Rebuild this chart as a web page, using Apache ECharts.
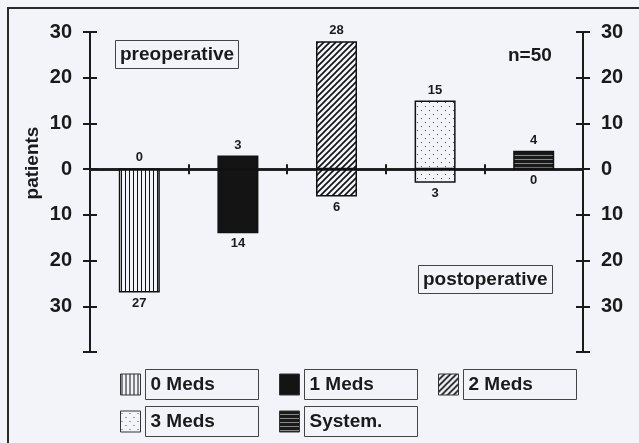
<!DOCTYPE html>
<html>
<head>
<meta charset="utf-8">
<script src="https://cdn.jsdelivr.net/npm/echarts@6/dist/echarts.min.js"></script>
<style>
html, body { margin: 0; padding: 0; background: #f3f4f9; }
#wrap { position: relative; width: 639px; height: 443px; overflow: hidden; }
#main { width: 639px; height: 443px; }
#frame { position: absolute; left: 7px; top: 7px; right: -10px; bottom: -10px;
  border-left: 2px solid #2a2a2a; border-top: 2px solid #2a2a2a; pointer-events: none; }
</style>
</head>
<body>
<div id="wrap"><div id="main"></div><div id="frame"></div></div>
<script>
// data
var categories = ['0 Meds', '1 Meds', '2 Meds', '3 Meds', 'System.'];
var preop = [0, 3, 28, 15, 4];      // upward bars
var postop = [27, 14, 6, 3, 0];     // downward bars
var yMin = -40, yMax = 30, yStep = 10;

var bg = '#f3f4f9';
var ink = '#1a1a1a';
var font = 'Liberation Sans, Arial, sans-serif';

// fill patterns, like the printed hatchings
function makePattern(w, h, draw) {
    var c = document.createElement('canvas');
    c.width = w; c.height = h;
    var ctx = c.getContext('2d');
    ctx.fillStyle = bg;
    ctx.fillRect(0, 0, w, h);
    draw(ctx);
    return { image: c, repeat: 'repeat' };
}
var fills = [
    makePattern(4, 4, function (ctx) { ctx.fillStyle = '#111'; ctx.fillRect(1, 0, 1, 4); }),
    '#141414',
    makePattern(6, 6, function (ctx) {
        ctx.strokeStyle = '#111'; ctx.lineWidth = 1.6;
        ctx.beginPath();
        ctx.moveTo(0, 6); ctx.lineTo(6, 0);
        ctx.moveTo(-1, 1); ctx.lineTo(1, -1);
        ctx.moveTo(5, 7); ctx.lineTo(7, 5);
        ctx.stroke();
    }),
    makePattern(8, 8, function (ctx) {
        ctx.fillStyle = '#444';
        ctx.fillRect(1, 2, 1, 1);
        ctx.fillRect(5, 6, 1, 1);
    }),
    makePattern(4, 4, function (ctx) {
        ctx.fillStyle = '#1a1a1a'; ctx.fillRect(0, 0, 4, 4);
        ctx.fillStyle = '#888'; ctx.fillRect(0, 3, 4, 1);
    })
];

var valueLabel = {
    show: true,
    color: ink,
    fontFamily: font,
    fontWeight: 'bold',
    fontSize: 13,
    distance: 4
};

// one up and one down series per medication group, all drawn in the same slot
var series = [];
categories.forEach(function (name, k) {
    var style = { color: fills[k], borderColor: '#111', borderWidth: 1.5 };
    series.push({
        name: name, type: 'bar', barWidth: 41, barGap: '-100%',
        itemStyle: style,
        label: Object.assign({ position: 'top' }, valueLabel),
        data: categories.map(function (c, i) { return i === k ? preop[k] : '-'; })
    });
    series.push({
        name: name, type: 'bar', barWidth: 41, barGap: '-100%',
        itemStyle: style,
        label: Object.assign({ position: 'bottom', formatter: function (p) { return Math.abs(p.value); } }, valueLabel),
        data: categories.map(function (c, i) { return i === k ? -postop[k] : '-'; })
    });
});

// each axis is drawn twice (ticks out + ticks in) so the ticks cross the line
function yAxisDef(pos, inside) {
    return {
        type: 'value', position: pos, offset: 0, min: yMin, max: yMax, interval: yStep,
        splitLine: { show: false },
        axisLine: { show: true, lineStyle: { color: ink, width: 2 } },
        axisTick: { show: true, inside: inside, length: 7, lineStyle: { color: ink, width: 2 } },
        axisLabel: {
            show: !inside, margin: 18, color: ink, fontFamily: font, fontWeight: 'bold', fontSize: 20,
            formatter: function (v) { return v === yMin ? '' : Math.abs(v); }
        }
    };
}
function xAxisDef(inside) {
    return {
        type: 'category', data: categories, position: 'bottom',
        axisLine: { onZero: true, lineStyle: { color: ink, width: 2.5 } },
        axisTick: { show: true, inside: inside, length: 5, lineStyle: { color: ink, width: 2 } },
        axisLabel: { show: false }
    };
}

var boxText = { fontFamily: font, fontWeight: 'bold', fontSize: 19, color: ink, lineHeight: 21 };
var legendText = {
    fontFamily: font, fontWeight: 'bold', fontSize: 19, color: ink, lineHeight: 20,
    width: 103, padding: [5, 5, 5, 5], borderColor: '#444', borderWidth: 1
};

var myChart = echarts.init(document.getElementById('main'));

option = {
    backgroundColor: 'transparent',
    animation: false,
    grid: { left: 90, right: 56, top: 32, bottom: 91 },
    title: [
        { text: 'preoperative', left: 115, top: 40, padding: [4, 5], borderColor: '#444', borderWidth: 1, textStyle: boxText },
        { text: 'n=50', left: 508, top: 45, padding: 0, textStyle: boxText },
        { text: 'postoperative', left: 418, top: 265, padding: [4, 5], borderColor: '#444', borderWidth: 1, textStyle: boxText }
    ],
    graphic: [{
        type: 'text', x: 33, y: 163, rotation: Math.PI / 2,
        style: { text: 'patients', fill: ink, font: 'bold 19px ' + font, textAlign: 'center', textVerticalAlign: 'middle' }
    }],
    legend: [
        { data: categories.slice(0, 3), left: 115, top: 364, itemGap: 20, itemWidth: 20, itemHeight: 21,
          icon: 'rect', selectedMode: false, itemStyle: { borderColor: '#333', borderWidth: 1 }, textStyle: legendText },
        { data: categories.slice(3), left: 115, top: 401, itemGap: 20, itemWidth: 20, itemHeight: 21,
          icon: 'rect', selectedMode: false, itemStyle: { borderColor: '#333', borderWidth: 1 }, textStyle: legendText }
    ],
    xAxis: [xAxisDef(false), xAxisDef(true)],
    yAxis: [yAxisDef('left', false), yAxisDef('left', true), yAxisDef('right', false), yAxisDef('right', true)],
    series: series
};

myChart.setOption(option);
</script>
</body>
</html>
